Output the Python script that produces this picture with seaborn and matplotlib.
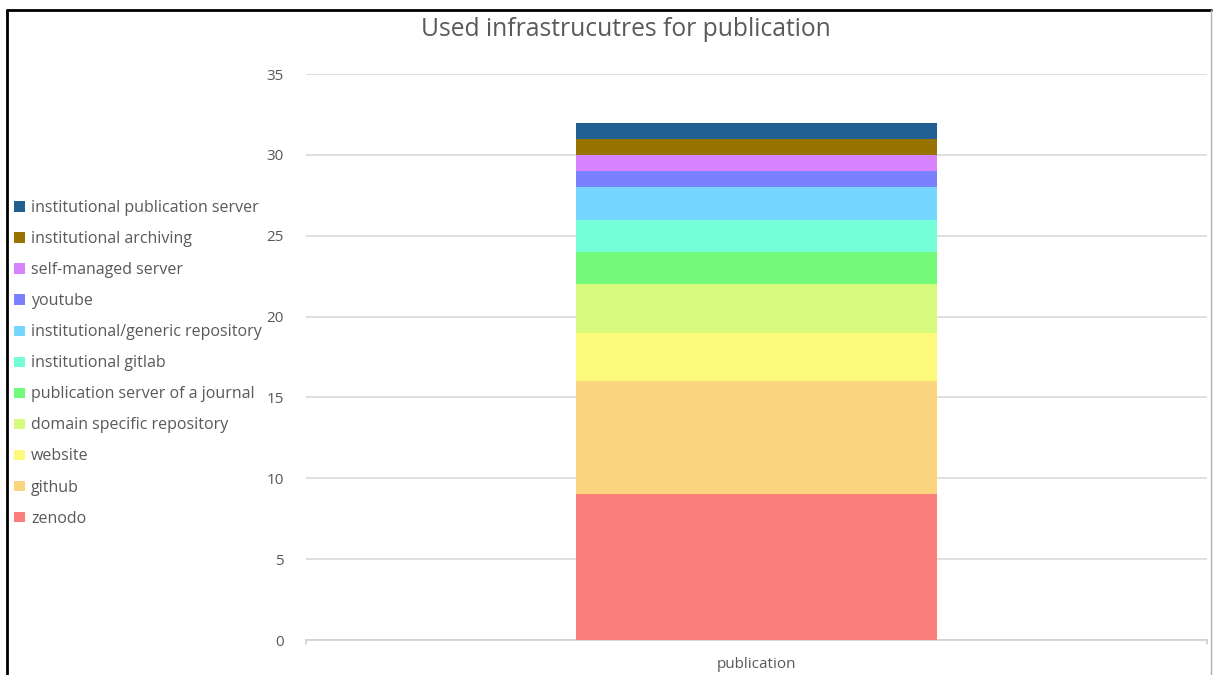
import matplotlib
matplotlib.use("Agg")
import matplotlib.pyplot as plt
import seaborn as sns
import pandas as pd
import numpy as np
from matplotlib.patches import Patch
from matplotlib.lines import Line2D

categories = ["zenodo", "github", "website", "domain specific repository",
              "publication server of a journal", "institutional gitlab",
              "institutional/generic repository", "youtube", "self-managed server",
              "institutional archiving", "institutional publication server"]
values = [9, 7, 3, 3, 2, 2, 2, 1, 1, 1, 1]
colors = ["#FA7E79", "#FAD47F", "#FDFA7B", "#D5FA7C", "#73FA79", "#75FDD8",
          "#75D6FF", "#7A81FF", "#D783FF", "#987300", "#215F93"]
group = ["publication"]
yticks = [0, 5, 10, 15, 20, 25, 30, 35]

sns.set_theme(style="white")
plt.rcParams['font.family'] = ['Open Sans', 'DejaVu Sans']

W, H = 1213, 675
fig = plt.figure(figsize=(W / 100, H / 100), dpi=100)
ax = fig.add_axes([306 / W, 1 - 640 / H, (1207 - 306) / W, (640 - 74) / H])

cum = np.cumsum(values)
for i in range(len(values) - 1, -1, -1):
    df = pd.DataFrame({"group": group, "value": [cum[i]]})
    sns.barplot(data=df, x="group", y="value", color=colors[i], width=0.4,
                saturation=1, ax=ax, zorder=3, edgecolor="none", linewidth=0)

txt = "#595959"
ax.set_ylim(0, 35)
ax.set_xlim(-0.5, 0.5)
ax.set_yticks(yticks)
ax.yaxis.grid(True, color="#d9d9d9", linewidth=1.2, zorder=0)
ax.set_axisbelow(True)
for s in ["top", "right", "left"]:
    ax.spines[s].set_visible(False)
ax.spines["bottom"].set_color("#d0d0d0")
ax.spines["bottom"].set_linewidth(1.2)
ax.set_xlabel("")
ax.set_ylabel("")
ax.tick_params(axis="y", length=0, pad=16, labelsize=11, labelcolor=txt)
ax.tick_params(axis="x", length=0, pad=12, labelsize=11, labelcolor=txt)
for xv in (-0.5, 0.5):
    ax.plot([xv, xv], [0, -0.25], color="#d0d0d0", lw=1.2, clip_on=False,
            transform=ax.transData)

fig.text(626 / W, 1 - 29 / H, "Used infrastrucutres for publication",
         ha="center", va="center", fontsize=17.7, color=txt)

handles = [Patch(facecolor=c, edgecolor="none") for c in colors][::-1]
labels = categories[::-1]
fig.legend(handles, labels, loc="upper left",
           bbox_to_anchor=(8 / W, 1 - 194 / H), frameon=False,
           fontsize=11.5, labelcolor=txt, handlelength=0.65, handleheight=0.65,
           handletextpad=0.4, labelspacing=0.94, borderaxespad=0)

fig.add_artist(Line2D([7 / W, 1211 / W], [1 - 10 / H, 1 - 10 / H],
                      transform=fig.transFigure, color="black", lw=2))
fig.add_artist(Line2D([7 / W, 7 / W], [0, 1 - 10 / H],
                      transform=fig.transFigure, color="black", lw=2))
fig.add_artist(Line2D([1211 / W, 1211 / W], [0, 1 - 10 / H],
                      transform=fig.transFigure, color="#b0b0b0", lw=1))

fig.savefig("out.png", dpi=100)
